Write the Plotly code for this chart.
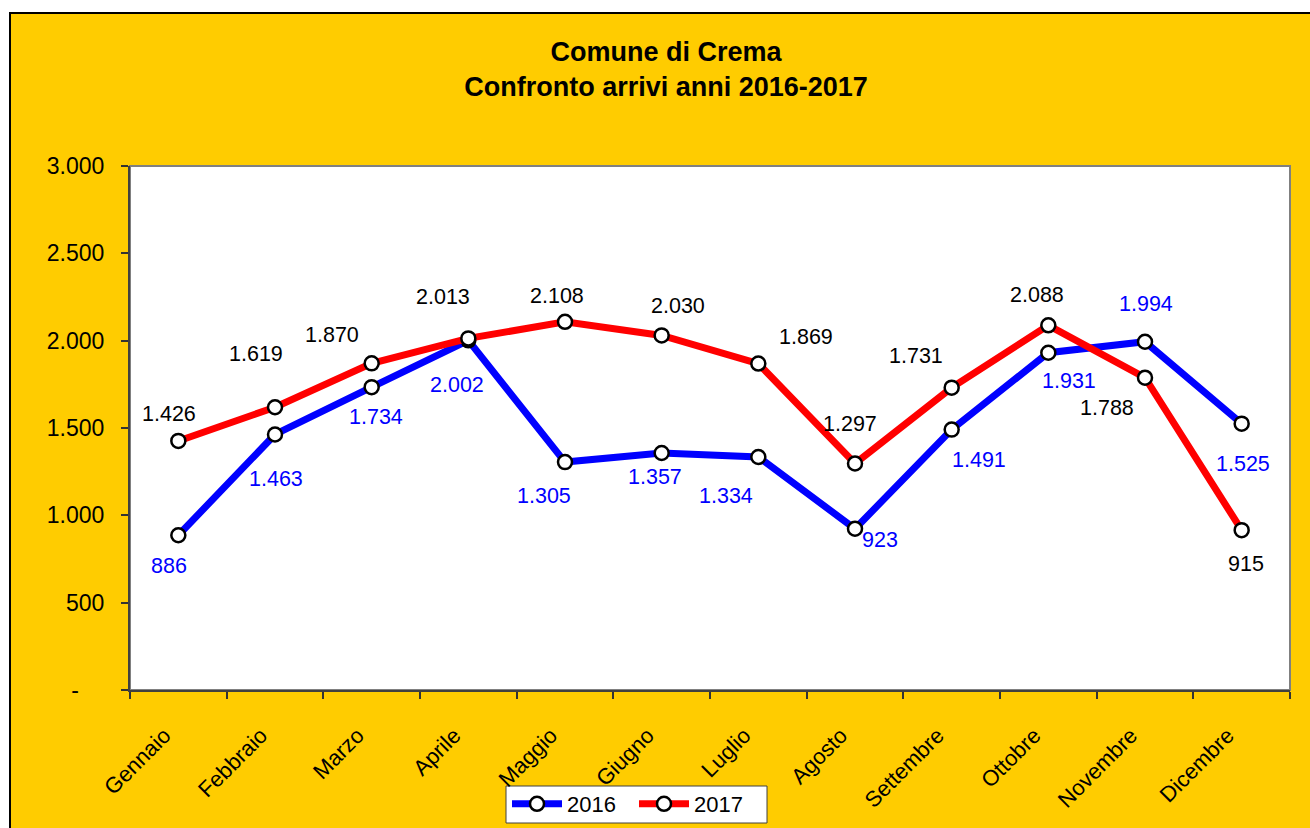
import plotly.graph_objects as go

# ---- data ----
months = ["Gennaio", "Febbraio", "Marzo", "Aprile", "Maggio", "Giugno",
          "Luglio", "Agosto", "Settembre", "Ottobre", "Novembre", "Dicembre"]
arrivi_2016 = [886, 1463, 1734, 2002, 1305, 1357, 1334, 923, 1491, 1931, 1994, 1525]
arrivi_2017 = [1426, 1619, 1870, 2013, 2108, 2030, 1869, 1297, 1731, 2088, 1788, 915]
y_tick_vals = [0, 500, 1000, 1500, 2000, 2500, 3000]
y_tick_text = ["-\u00a0\u00a0\u00a0\u00a0", "500", "1.000", "1.500", "2.000", "2.500", "3.000"]

# ---- label placement (pixel offsets from each point: dx right, dy down) ----
off_2016 = [(-9, 31), (1, 45), (4, 30), (-11, 45), (-21, 34), (-7, 24),
            (-32, 39), (25, 11), (27, 30), (21, 28), (1, -38), (1, 40)]
off_2017 = [(-9, -27), (-19, -53), (-40, -28), (-25, -41), (-8, -26), (16, -29),
            (48, -27), (-5, -39), (-36, -32), (-11, -30), (-38, 30), (4, 34)]

FONT = "Arial, Liberation Sans, sans-serif"
YELLOW = "#FFCC00"


def fmt(v):
    return f"{v:,}".replace(",", ".")


fig = go.Figure()
fig.add_trace(go.Scatter(
    x=months, y=arrivi_2016, name="2016", mode="lines+markers",
    line=dict(color="#0000FF", width=7),
    marker=dict(symbol="circle", size=14, color="white",
                line=dict(color="black", width=2.5)),
))
fig.add_trace(go.Scatter(
    x=months, y=arrivi_2017, name="2017", mode="lines+markers",
    line=dict(color="#FF0000", width=7),
    marker=dict(symbol="circle", size=14, color="white",
                line=dict(color="black", width=2.5)),
))

annotations = []
for m, v, (dx, dy) in zip(months, arrivi_2016, off_2016):
    annotations.append(dict(x=m, y=v, text=fmt(v), showarrow=False,
                            xshift=dx, yshift=-dy,
                            font=dict(family=FONT, size=21.5, color="#0000FF")))
for m, v, (dx, dy) in zip(months, arrivi_2017, off_2017):
    annotations.append(dict(x=m, y=v, text=fmt(v), showarrow=False,
                            xshift=dx, yshift=-dy,
                            font=dict(family=FONT, size=21.5, color="black")))

W, H = 1310, 828
L, R, T, B = 130, 20, 166, 138
pw, ph = W - L - R, H - T - B


def px_x(x):
    return (x - L) / pw


def px_y(y):
    return (H - B - y) / ph


shapes = [
    # outer yellow chart area with black frame
    dict(type="rect", xref="paper", yref="paper", layer="below",
         x0=px_x(10), x1=px_x(W + 20), y0=px_y(H + 20), y1=px_y(13),
         fillcolor=YELLOW, line=dict(color="black", width=2)),
    # white plot area with gray border
    dict(type="rect", xref="paper", yref="paper", layer="below",
         x0=0, x1=1, y0=0, y1=1,
         fillcolor="white", line=dict(color="#808080", width=2)),
    # legend box
    dict(type="rect", xref="paper", yref="paper", layer="below",
         x0=px_x(506), x1=px_x(767), y0=px_y(823), y1=px_y(786),
         fillcolor="white", line=dict(color="#404040", width=1)),
]

fig.update_layout(
    width=W, height=H,
    margin=dict(l=L, r=R, t=T, b=B, autoexpand=False),
    paper_bgcolor="white",
    plot_bgcolor="white",
    separators=",.",
    font=dict(family=FONT, size=22, color="black"),
    title=dict(
        text="<b>Comune di Crema<br>Confronto arrivi anni 2016-2017</b>",
        x=666 / W, xanchor="center", xref="container",
        y=1 - 61 / H, yanchor="middle", yref="container",
        font=dict(family=FONT, size=27, color="black"),
    ),
    showlegend=True,
    legend=dict(
        orientation="h", x=px_x(507), xanchor="left",
        y=px_y(783), yanchor="top",
        bgcolor="rgba(0,0,0,0)", borderwidth=0,
        font=dict(family=FONT, size=22, color="black"),
        entrywidth=62, entrywidthmode="pixels",
        itemwidth=50,
    ),
    xaxis=dict(
        type="category", range=[-0.5, 11.5],
        tickson="boundaries", ticks="outside", ticklen=7, tickwidth=1.5,
        tickcolor="#333333", showline=True, linecolor="#404040", linewidth=2,
        tickangle=-45, tickfont=dict(family=FONT, size=22, color="black"),
        ticklabelstandoff=22, ticklabelshift=-14,
        showgrid=False, zeroline=False, fixedrange=True,
    ),
    yaxis=dict(
        range=[0, 3000], tickvals=y_tick_vals, ticktext=y_tick_text,
        ticks="outside", ticklen=7, tickwidth=1.5, tickcolor="#333333",
        showline=True, linecolor="#404040", linewidth=2,
        tickfont=dict(family=FONT, size=23, color="black"),
        ticklabelstandoff=12,
        showgrid=False, zeroline=False, fixedrange=True,
    ),
    annotations=annotations,
    shapes=shapes,
)

fig.write_html("out.html", config={"displayModeBar": False},
               post_script="document.body.style.margin='0';")
